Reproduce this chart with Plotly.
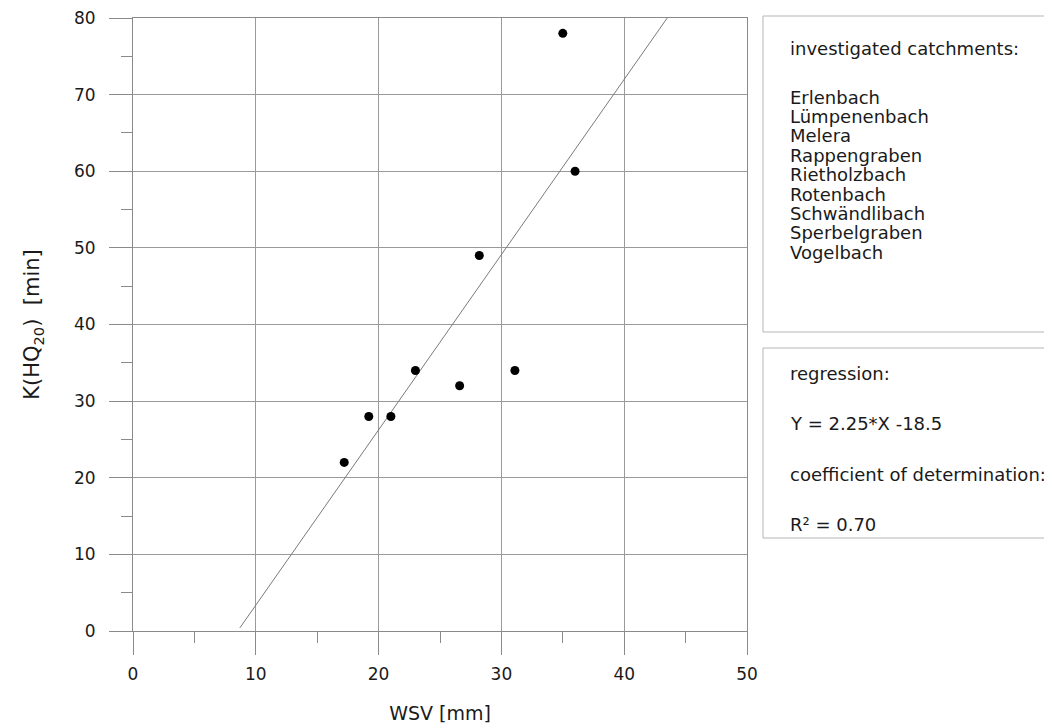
import plotly.graph_objects as go

# ---- data ----
wsv_mm = [17.2, 19.2, 21.0, 23.0, 26.6, 31.1, 28.2, 36.0, 35.0]
k_hq20_min = [22, 28, 28, 34, 32, 34, 49, 60, 78]

reg_x = [8.7, 43.5]
reg_y = [0.4, 80.0]

catchments = ["Erlenbach", "Lümpenenbach", "Melera", "Rappengraben", "Rietholzbach",
              "Rotenbach", "Schwändlibach", "Sperbelgraben", "Vogelbach"]
reg_lines = ["regression:", "Y = 2.25*X -18.5", "coefficient of determination:", "R² = 0.70"]

x_ticks = [0, 10, 20, 30, 40, 50]
y_ticks = [0, 10, 20, 30, 40, 50, 60, 70, 80]

# ---- layout geometry (page pixels; the page body adds an 8px offset) ----
W, H = 1052, 728
OFF = 8
L, R, T, B = 133 - OFF, 747 - OFF, 18 - OFF, 631 - OFF
FONT = "DejaVu Sans"
TXT = "#1a1a1a"

def px(x):
    return (x - OFF - L) / (R - L)

def py(y):
    return (B - (y - OFF)) / (B - T)

fig = go.Figure()
fig.add_trace(go.Scatter(x=reg_x, y=reg_y, mode="lines",
                         line=dict(color="#7a7a7a", width=1), hoverinfo="skip",
                         showlegend=False))
fig.add_trace(go.Scatter(x=wsv_mm, y=k_hq20_min, mode="markers",
                         marker=dict(color="black", size=9), showlegend=False))

axis_common = dict(
    showgrid=True, gridcolor="#9a9a9a", gridwidth=1,
    zeroline=False, showline=True, mirror=True, linecolor="#8a8a8a", linewidth=1,
    ticks="outside", ticklen=23, tickcolor="#8a8a8a", tickwidth=1,
    tickfont=dict(family=FONT, size=17, color=TXT),
    minor=dict(ticks="outside", ticklen=11, tickcolor="#8a8a8a", showgrid=False),
    automargin=False, ticklabeloverflow="allow",
)

fig.update_xaxes(range=[0, 50], tickvals=x_ticks, ticklabelstandoff=5,
                 minor_dtick=5, minor_tick0=0,
                 title=dict(text="WSV [mm]", font=dict(family=FONT, size=19, color=TXT), standoff=23),
                 **axis_common)
fig.update_yaxes(range=[0, 80], tickvals=y_ticks, ticklabelstandoff=10,
                 minor_dtick=5, minor_tick0=0,
                 title=dict(text="K(HQ<sub>20</sub>)\u00a0\u00a0[min]",
                            font=dict(family=FONT, size=21, color=TXT), standoff=28),
                 **axis_common)

shapes = [
    dict(type="rect", xref="paper", yref="paper", x0=px(763), x1=px(1080), y0=py(332), y1=py(16),
         line=dict(color="#b5b5b5", width=1), fillcolor="rgba(0,0,0,0)"),
    dict(type="rect", xref="paper", yref="paper", x0=px(763), x1=px(1080), y0=py(538), y1=py(348),
         line=dict(color="#b5b5b5", width=1), fillcolor="rgba(0,0,0,0)"),
]

ann = []
def add_text(text, ypix):
    ann.append(dict(text=text, xref="paper", yref="paper", x=px(788), y=py(ypix),
                    xanchor="left", yanchor="middle", showarrow=False,
                    font=dict(family=FONT, size=18, color=TXT)))

add_text("investigated catchments:", 49)
for i, name in enumerate(catchments):
    add_text(name, 97 + i * 19.4)
for i, t in enumerate(reg_lines):
    add_text(t, 373 + i * 50.5)

fig.update_layout(
    width=W, height=H,
    margin=dict(l=L, r=W - R, t=T, b=H - B, pad=0),
    paper_bgcolor="white", plot_bgcolor="white",
    shapes=shapes, annotations=ann,
    showlegend=False,
)

fig.write_html("out.html")
